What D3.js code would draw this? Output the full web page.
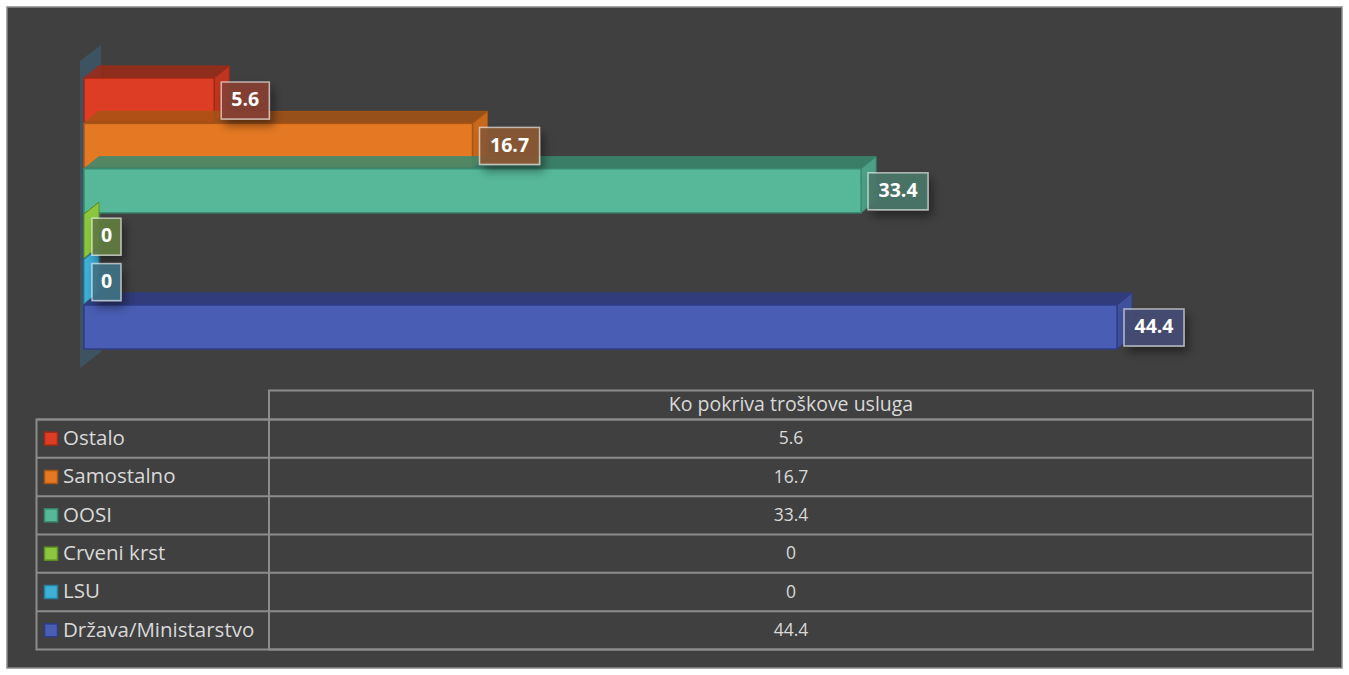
<!DOCTYPE html>
<html><head><meta charset="utf-8">
<script src="https://cdn.jsdelivr.net/npm/d3@7"></script>
<style>body{margin:0;background:#fff;}svg{display:block;}</style>
</head><body>
<svg id="c" width="1349" height="675"></svg>
<script>
const categories = ["Ostalo","Samostalno","OOSI","Crveni krst","LSU","Država/Ministarstvo"];
const values = [5.6, 16.7, 33.4, 0, 0, 44.4];
const colors = ["#dc3d24","#e57822","#56b899","#8cc63f","#3eafd6","#4a5db4"];
const darkColors = ["#9e2a17","#a85414","#3a8a70","#5f8f25","#2680a3","#2e3c86"];
const seriesName = "Ko pokriva troškove usluga";

const svg = d3.select("#c");
svg.append("rect").attr("x",7).attr("y",7).attr("width",1335).attr("height",661)
  .attr("fill","#404040").attr("stroke","#8a8a8a").attr("stroke-width",1.5);

const defs = svg.append("defs");
const f = defs.append("filter").attr("id","sh").attr("x","-50%").attr("y","-50%").attr("width","200%").attr("height","200%");
f.append("feDropShadow").attr("dx",4).attr("dy",6).attr("stdDeviation",5).attr("flood-color","#000").attr("flood-opacity",0.45);

const x = d3.scaleLinear().domain([0,44.4]).range([84,1117]);
const y = d3.scaleBand().domain(categories).range([78,349]).paddingInner(0.03).paddingOuter(0);
const dx = 15, dy = 12;

// side wall
const x0 = x(0);
svg.append("polygon")
  .attr("points",[[x0-4,y.range()[0]-17],[x0+dx+2,y.range()[0]-33],[x0+dx+2,y.range()[1]+3],[x0-4,y.range()[1]+19]].map(p=>p.join(",")).join(" "))
  .attr("fill","rgba(60,120,160,0.35)");

const g = svg.append("g");
categories.forEach((c,i)=>{
  const v = values[i], y0 = y(c), h = y.bandwidth(), xe = x(v);
  const bg = g.append("g");
  bg.append("polygon").attr("points",[[x0,y0],[x0+dx,y0-dy],[xe+dx,y0-dy],[xe,y0]].map(p=>p.join(",")).join(" "))
    .attr("fill",darkColors[i]).attr("fill-opacity",0.85).attr("stroke",darkColors[i]).attr("stroke-width",1);
  bg.append("polygon").attr("points",[[xe,y0],[xe+dx,y0-dy],[xe+dx,y0+h-dy],[xe,y0+h]].map(p=>p.join(",")).join(" "))
    .attr("fill",v===0?colors[i]:d3.color(colors[i]).darker(0.4)).attr("stroke",darkColors[i]).attr("stroke-width",1);
  if(v>0){
    bg.append("rect").attr("x",x0).attr("y",y0).attr("width",xe-x0).attr("height",h)
      .attr("fill",colors[i]).attr("stroke",darkColors[i]).attr("stroke-width",1.5);
  }
});

// labels
categories.forEach((c,i)=>{
  const v = values[i], cy = y(c)+y.bandwidth()/2;
  const txt = String(v);
  const w = v===0 ? 29 : (txt.length>3 ? 60 : 48);
  const bx = x(v) + (v===0 ? 8 : 7);
  const lg = svg.append("g");
  lg.append("rect").attr("x",bx).attr("y",cy-18).attr("width",w).attr("height",37)
    .attr("fill",d3.interpolateRgb(colors[i],"#404040")(0.55)).attr("fill-opacity",0.92)
    .attr("stroke","rgba(255,255,255,0.6)").attr("stroke-width",1.5).attr("filter","url(#sh)");
  lg.append("text").attr("x",bx+w/2).attr("y",cy+1).attr("text-anchor","middle").attr("dominant-baseline","middle")
    .attr("fill","#fff").attr("font-family","'Open Sans',sans-serif").attr("font-weight","bold").attr("font-size",19.5).text(txt);
});

// data table
const tLeft = 36.5, tSep = 269, tRight = 1313, hTop = 390.5;
const rowY = d3.scaleBand().domain(categories).range([419.5,649.5]);
const lineC = "#8c8c8c";
const tg = svg.append("g").attr("stroke",lineC).attr("stroke-width",2).attr("fill","none");
tg.append("rect").attr("x",tSep).attr("y",hTop).attr("width",tRight-tSep).attr("height",649.5-hTop);
tg.append("rect").attr("x",tLeft).attr("y",419.5).attr("width",tRight-tLeft).attr("height",230);
categories.forEach(c=>{
  tg.append("line").attr("x1",tLeft).attr("x2",tRight).attr("y1",rowY(c)).attr("y2",rowY(c));
});
const txtC = "#d9d9d9";
const font = "'Open Sans',sans-serif";
svg.append("text").attr("x",(tSep+tRight)/2).attr("y",(hTop+419.5)/2+1).attr("text-anchor","middle").attr("dominant-baseline","middle")
  .attr("fill",txtC).attr("font-family",font).attr("font-size",19.5).text(seriesName);
categories.forEach((c,i)=>{
  const cy = rowY(c)+rowY.bandwidth()/2;
  svg.append("rect").attr("x",44.5).attr("y",cy-6.5).attr("width",13).attr("height",13)
    .attr("fill",colors[i]).attr("stroke",darkColors[i]).attr("stroke-width",1.5);
  svg.append("text").attr("x",63).attr("y",cy+1).attr("dominant-baseline","middle")
    .attr("fill",txtC).attr("font-family",font).attr("font-size",20.5).text(c);
  svg.append("text").attr("x",(tSep+tRight)/2).attr("y",cy+1).attr("text-anchor","middle").attr("dominant-baseline","middle")
    .attr("fill",txtC).attr("font-family",font).attr("font-size",17.5).text(String(values[i]));
});
</script>
</body></html>
